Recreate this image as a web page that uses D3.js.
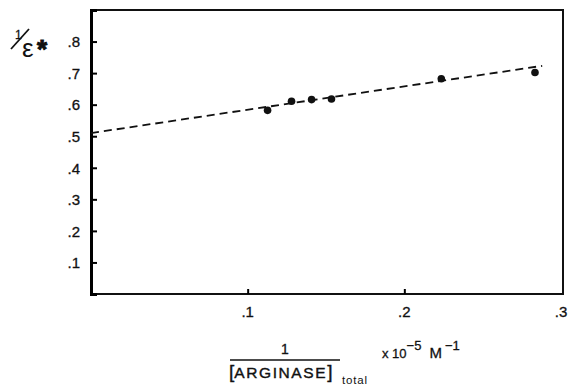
<!DOCTYPE html>
<html>
<head>
<meta charset="utf-8">
<script src="https://cdn.jsdelivr.net/npm/d3@7"></script>
<style>
  body { margin: 0; background: #fff; }
  text { font-family: "Liberation Sans", Arial, sans-serif; fill: #111; }
</style>
</head>
<body>
<svg id="chart" width="572" height="387"></svg>
<script>
// data
const invArginase = [0.1127, 0.128, 0.1408, 0.1535, 0.2236, 0.2834];
const invEpsilon  = [0.582, 0.611, 0.616, 0.618, 0.682, 0.702];
const fitX = [0, 0.288];
const fitY = [0.51, 0.723];
const xTicks = [0.1, 0.2, 0.3];
const yTicks = [0.1, 0.2, 0.3, 0.4, 0.5, 0.6, 0.7, 0.8];

const margin = {left: 91, top: 10, right: 563, bottom: 294};
const svg = d3.select("#chart");

const x = d3.scaleLinear().domain([0, 0.3]).range([margin.left, 561]);
const y = d3.scaleLinear().domain([0, 0.9]).range([margin.bottom, margin.top]);
const fmt = d => d3.format(".1f")(d).replace(/^0/, "");

// frame
svg.append("rect")
    .attr("x", margin.left).attr("y", margin.top)
    .attr("width", margin.right - margin.left)
    .attr("height", margin.bottom - margin.top)
    .attr("fill", "none").attr("stroke", "#111").attr("stroke-width", 2);

// axes with inward ticks
const yAxis = svg.append("g")
    .attr("transform", "translate(" + margin.left + ",0)")
    .call(d3.axisRight(y).tickValues(yTicks).tickSize(6).tickFormat(""));
yAxis.select(".domain").attr("stroke-width", 3);
yAxis.selectAll(".tick line").attr("stroke-width", 2);
yAxis.selectAll(".tick").append("text")
    .attr("x", -11).attr("dy", "0.35em")
    .attr("text-anchor", "end")
    .attr("font-size", 15)
    .attr("stroke", "#111").attr("stroke-width", 0.3)
    .text(d => fmt(d));

const xAxis = svg.append("g")
    .attr("transform", "translate(0," + margin.bottom + ")")
    .call(d3.axisTop(x).tickValues(xTicks.slice(0, 2)).tickSize(5).tickFormat(""));
xAxis.select(".domain").remove();
xAxis.selectAll(".tick line").attr("stroke-width", 2);
svg.append("g").selectAll("text")
    .data(xTicks)
    .enter().append("text")
    .attr("x", d => x(d))
    .attr("y", margin.bottom + 23)
    .attr("text-anchor", "middle")
    .attr("font-size", 15)
    .attr("stroke", "#111").attr("stroke-width", 0.3)
    .text(d => fmt(d));

// fitted dashed line
svg.append("path")
    .datum(d3.zip(fitX, fitY))
    .attr("d", d3.line().x(d => x(d[0])).y(d => y(d[1])))
    .attr("fill", "none")
    .attr("stroke", "#111")
    .attr("stroke-width", 1.8)
    .attr("stroke-dasharray", "8,5");

// data points
svg.append("g").selectAll("circle")
    .data(d3.zip(invArginase, invEpsilon))
    .enter().append("circle")
    .attr("cx", d => x(d[0]))
    .attr("cy", d => y(d[1]))
    .attr("r", 3.8)
    .attr("fill", "#111");

// y label: 1/E*
const yl = svg.append("g");
yl.append("text").attr("x", 15).attr("y", 39).attr("font-size", 12)
    .attr("stroke", "#111").attr("stroke-width", 0.3).text("1");
yl.append("line").attr("x1", 11).attr("y1", 49).attr("x2", 29).attr("y2", 29)
    .attr("stroke", "#111").attr("stroke-width", 1.8);
yl.append("text").attr("x", 22).attr("y", 57).attr("font-size", 26)
    .attr("font-family", "DejaVu Sans").text("ε");
yl.append("text").attr("x", 37).attr("y", 58).attr("font-size", 26)
    .attr("font-weight", "bold").attr("stroke", "#111").attr("stroke-width", 1).text("*");

// x label
const xl = svg.append("g");
xl.append("text").attr("x", 285).attr("y", 354).attr("text-anchor", "middle")
    .attr("font-size", 14).attr("stroke", "#111").attr("stroke-width", 0.3).text("1");
xl.append("line").attr("x1", 230).attr("x2", 340).attr("y1", 360).attr("y2", 360)
    .attr("stroke", "#111").attr("stroke-width", 1.5);
const arg = xl.append("text").attr("x", 229).attr("y", 378).attr("font-size", 15.5)
    .attr("stroke", "#111").attr("stroke-width", 0.4);
arg.append("tspan").attr("font-size", 19).text("[");
arg.append("tspan").attr("letter-spacing", 1.6).text("ARGINASE");
arg.append("tspan").attr("font-size", 19).text("]");
xl.append("text").attr("x", 342).attr("y", 384).attr("font-size", 11.5)
    .attr("letter-spacing", 0.8).text("total");
const ex = xl.append("text").attr("x", 382).attr("y", 358).attr("font-size", 13)
    .attr("stroke", "#111").attr("stroke-width", 0.3);
ex.append("tspan").text("x 10");
ex.append("tspan").attr("dy", -8).attr("font-size", 13).text("−5");
ex.append("tspan").attr("dy", 8).attr("dx", 8).attr("font-size", 15).text("M");
ex.append("tspan").attr("dy", -8).attr("dx", 3).attr("font-size", 13).text("−1");
</script>
</body>
</html>
